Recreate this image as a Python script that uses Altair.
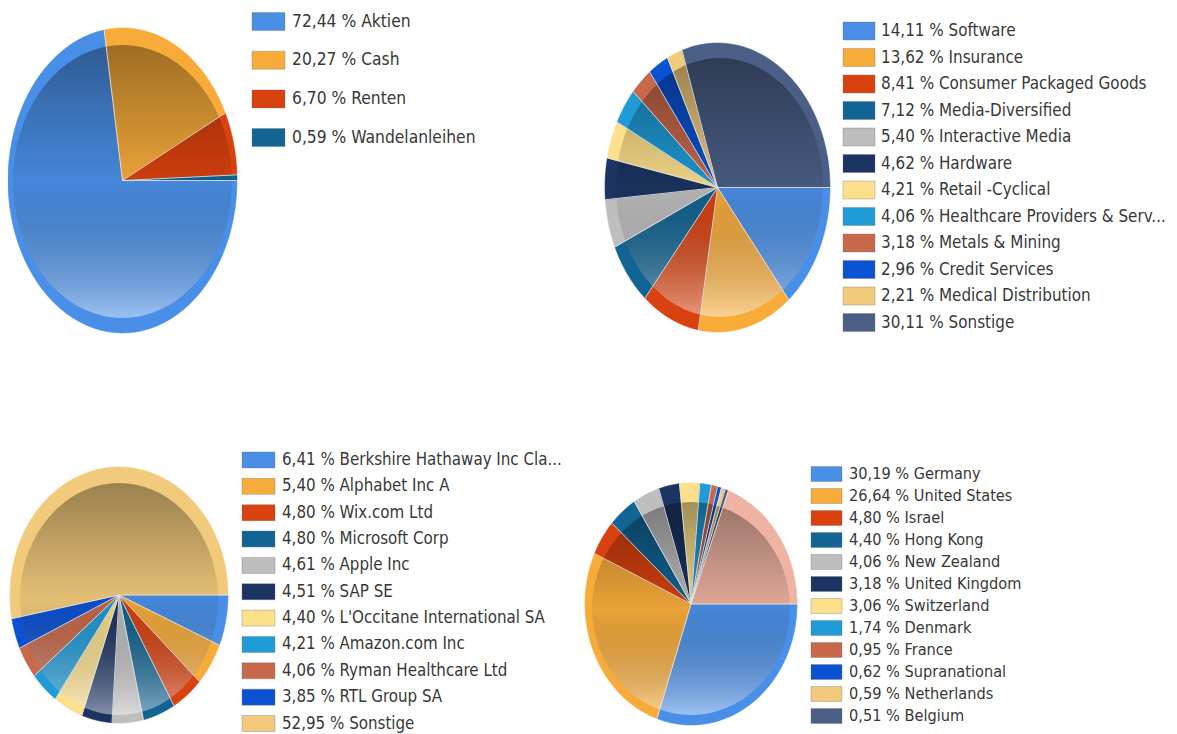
import altair as alt
import pandas as pd

# ---------------- data ----------------
asset_labels = ["Aktien", "Cash", "Renten", "Wandelanleihen"]
asset_values = [72.44, 20.27, 6.70, 0.59]

sector_labels = ["Software", "Insurance", "Consumer Packaged Goods", "Media-Diversified",
                 "Interactive Media", "Hardware", "Retail -Cyclical",
                 "Healthcare Providers & Serv...", "Metals & Mining", "Credit Services",
                 "Medical Distribution", "Sonstige"]
sector_values = [14.11, 13.62, 8.41, 7.12, 5.40, 4.62, 4.21, 4.06, 3.18, 2.96, 2.21, 30.11]

holding_labels = ["Berkshire Hathaway Inc Cla...", "Alphabet Inc A", "Wix.com Ltd",
                  "Microsoft Corp", "Apple Inc", "SAP SE", "L'Occitane International SA",
                  "Amazon.com Inc", "Ryman Healthcare Ltd", "RTL Group SA", "Sonstige"]
holding_values = [6.41, 5.40, 4.80, 4.80, 4.61, 4.51, 4.40, 4.21, 4.06, 3.85, 52.95]

country_labels = ["Germany", "United States", "Israel", "Hong Kong", "New Zealand",
                  "United Kingdom", "Switzerland", "Denmark", "France", "Supranational",
                  "Netherlands", "Belgium"]
country_values = [30.19, 26.64, 4.80, 4.40, 4.06, 3.18, 3.06, 1.74, 0.95, 0.62, 0.59, 0.51]
country_rest_value = 19.26   # unlabelled slice in the pie (not in legend)

palette = ["#4a8fe7", "#f7ac3a", "#d9410f", "#116493", "#bebebe", "#1b3462",
           "#fde08c", "#1f9bd7", "#c9694b", "#0b52d3", "#f2ca7c", "#4a5e86"]
rest_color = "#efb3a3"

FONT = "DejaVu Sans Condensed"
N = 72


def make_df(labels, values, colors, legend_count):
    return pd.DataFrame({
        "idx": list(range(len(labels))),
        "label": labels,
        "value": values,
        "color": colors,
        "text": [f"{v:.2f}".replace(".", ",") + " % " + l for l, v in zip(labels, values)],
        "inlegend": [i < legend_count for i in range(len(labels))],
    })


df1 = make_df(asset_labels, asset_values, palette[:4], 4)
df2 = make_df(sector_labels, sector_values, palette[:11] + [palette[11]], 12)
df3 = make_df(holding_labels, holding_values, palette[:10] + [palette[10]], 11)
df4 = make_df(country_labels + ["Sonstige"], country_values + [country_rest_value],
              palette[:12] + [rest_color], 12)


def with_angles(chart):
    return (chart
            .transform_window(cum="sum(value)", sort=[alt.SortField("idx", order="ascending")])
            .transform_joinaggregate(total="sum(value)"))


def pos_scales(xr, yr):
    xs = alt.Scale(domain=[-1, 1], range=xr, nice=False, zero=False)
    ys = alt.Scale(domain=[-1, 1], range=yr, nice=False, zero=False)
    return xs, ys


def polygon_points(chart):
    return (chart
            .transform_calculate(k=f"sequence(0, {N + 3})")
            .transform_flatten(["k"])
            .transform_calculate(
                t=f"clamp((datum.k - 1) / {N}, 0, 1)",
                r=f"(datum.k == 0 || datum.k == {N + 2}) ? 0 : 1")
            .transform_calculate(
                ang="PI / 2 + 2 * PI * ((datum.cum - datum.value) + datum.value * datum.t) / datum.total")
            .transform_calculate(px="datum.r * sin(datum.ang)", py="datum.r * cos(datum.ang)"))


def pie_layers(df, outer, inner):
    xs, ys = pos_scales(*outer)
    xi, yi = pos_scales(*inner)
    base = with_angles(alt.Chart(df))
    slices = polygon_points(base).mark_line(strokeWidth=0.6, interpolate="linear").encode(
        x=alt.X("px:Q", scale=xs, axis=None),
        y=alt.Y("py:Q", scale=ys, axis=None),
        order=alt.Order("k:Q"),
        detail="label:N",
        fill=alt.Fill("color:N", scale=None),
        stroke=alt.Stroke("color:N", scale=None),
    )
    whole = pd.DataFrame({"idx": [0], "label": ["all"], "value": [1.0]})
    grad = alt.LinearGradient(
        gradient="linear", x1=0, x2=0, y1=0, y2=1,
        stops=[alt.GradientStop(color="rgba(0,0,0,0.36)", offset=0),
               alt.GradientStop(color="rgba(0,0,0,0.06)", offset=0.5),
               alt.GradientStop(color="rgba(255,255,255,0.45)", offset=1)])
    overlay = polygon_points(with_angles(alt.Chart(whole))).mark_line(
        fill=grad, strokeWidth=0, strokeOpacity=0).encode(
        x=alt.X("px:Q", scale=xi, axis=None),
        y=alt.Y("py:Q", scale=yi, axis=None),
        order=alt.Order("k:Q"),
    )
    rules = base.transform_calculate(
        a0="PI / 2 + 2 * PI * (datum.cum - datum.value) / datum.total",
        zero="0").transform_calculate(
        ex="sin(datum.a0)", ey="cos(datum.a0)").mark_rule(
        color="#e4e4e4", strokeWidth=1, opacity=0.85).encode(
        x=alt.X("zero:Q", scale=xs, axis=None),
        x2="ex:Q",
        y=alt.Y("zero:Q", scale=ys, axis=None),
        y2="ey:Q",
    )
    return [slices, overlay, rules]


def legend_layers(df, n, sw_x, row_first, row_last, sw_h, text_x, font_size):
    ys = alt.Scale(domain=[0, n - 1], range=[row_first, row_last], nice=False, zero=False)
    d = alt.Chart(df).transform_filter("datum.inlegend")
    half = sw_h / 2.0
    spacing = (row_last - row_first) / (n - 1)
    hf = half / spacing
    sw = d.transform_calculate(
        y0=f"datum.idx - {hf}", y1=f"datum.idx + {hf}").mark_rect(
        strokeWidth=1, stroke="#6f6f6f", strokeOpacity=0.35).encode(
        x=alt.value(sw_x[0]), x2=alt.value(sw_x[1]),
        y=alt.Y("y0:Q", scale=ys, axis=None), y2="y1:Q",
        fill=alt.Fill("color:N", scale=None),
    )
    tx = d.mark_text(align="left", baseline="middle", font=FONT, fontSize=font_size,
                     color="#383838").encode(
        x=alt.value(text_x),
        y=alt.Y("idx:Q", scale=ys, axis=None),
        text="text:N",
    )
    return [sw, tx]


layers = []
layers += pie_layers(df1, ([0, 229], [325, 20]), ([5, 224], [310, 37]))
layers += pie_layers(df2, ([597, 822], [324, 35]), ([608, 815], [309, 50]))
layers += pie_layers(df3, ([2, 220], [715, 459]), ([12, 210], [707, 475]))
layers += pie_layers(df4, ([577, 789], [717, 475]), ([584, 782], [707, 494]))

layers += legend_layers(df1, 4, (244, 277), 13.5, 129.6, 18, 284, 17.3)
layers += legend_layers(df2, 12, (835, 867), 23, 314.5, 18, 873, 16.9)
layers += legend_layers(df3, 11, (234, 267), 452, 715.5, 16, 274, 16.8)
layers += legend_layers(df4, 12, (803, 834), 466, 708, 15, 841, 16.2)

chart = alt.layer(*layers).resolve_scale(
    x="independent", y="independent"
).properties(
    width=1161, height=726, padding=0, autosize="none", background="white"
).configure_view(strokeWidth=0)

chart.save("out.html", embed_options={"renderer": "svg", "actions": False})
